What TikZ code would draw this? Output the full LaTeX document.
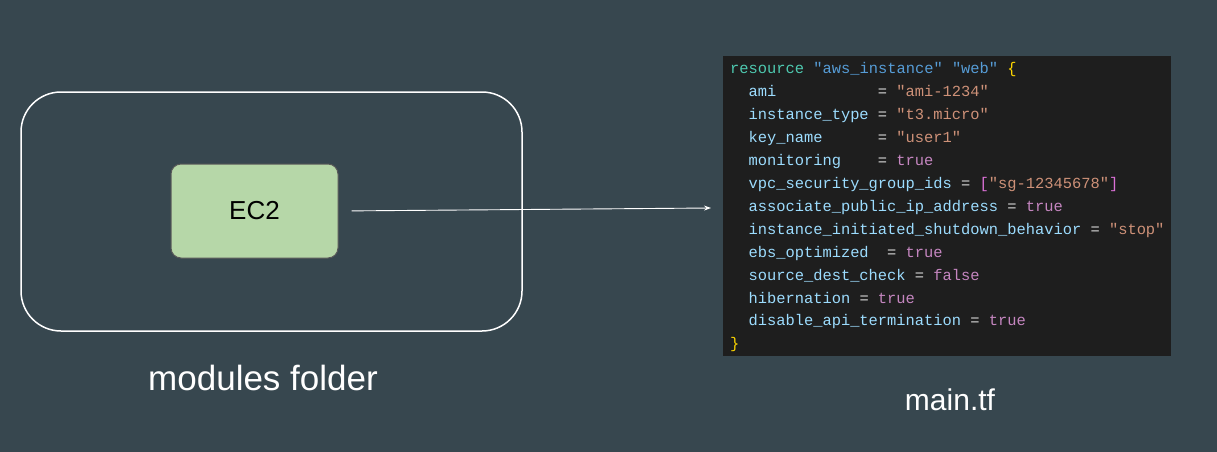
\documentclass[tikz,border=0pt]{standalone}
\usepackage{fontspec}
\setmainfont{Liberation Sans}
\setmonofont{Liberation Mono}
\usepackage{tikz}
\usetikzlibrary{arrows.meta}
\definecolor{slatebg}{HTML}{37474F}
\definecolor{editorbg}{HTML}{1E1E1E}
\definecolor{ecfill}{HTML}{B6D7A8}
\definecolor{kwcol}{HTML}{4EC9B0}
\definecolor{labcol}{HTML}{569CD6}
\definecolor{attrcol}{HTML}{9CDCFE}
\definecolor{opcol}{HTML}{D4D4D4}
\definecolor{strcol}{HTML}{CE9178}
\definecolor{boolcol}{HTML}{C586C0}
\definecolor{bracecol}{HTML}{FFD700}
\definecolor{brkcol}{HTML}{DA70D6}
\tikzset{
    folder box/.style={draw=white, line width=1.5pt, rounded corners=40pt}, % the module folder frame
    service box/.style={draw=gray!70!black, line width=1pt, fill=ecfill, rounded corners=10pt, minimum width=167pt, minimum height=94pt, font=\fontsize{26}{30}\selectfont}, % the EC2 block
    caption/.style={text=white, font=\fontsize{30}{34}\selectfont}, % labels under each half
    codeline/.style={anchor=base west, inner sep=0pt, text=attrcol, font=\ttfamily\fontsize{15.4}{18}\selectfont} % one line of the .tf file
}
\newcommand{\ckw}[1]{\textcolor{kwcol}{#1}}
\newcommand{\clab}[1]{\textcolor{labcol}{#1}}
\newcommand{\cstr}[1]{\textcolor{strcol}{#1}}
\newcommand{\cbool}[1]{\textcolor{boolcol}{#1}}
\newcommand{\ceq}{\textcolor{opcol}{=}}
\newcommand{\cbrace}[1]{\textcolor{bracecol}{#1}}
\newcommand{\cbrk}[1]{\textcolor{brkcol}{#1}}

\begin{document}
\begin{tikzpicture}[x=1pt, y=-1pt]
    \def\W{1217} \def\H{452}
    \fill[slatebg] (0,0) rectangle (\W,\H);
    \useasboundingbox (0,0) rectangle (\W,\H);

    \draw[folder box] (21,92) rectangle (522,331);
    \node[service box] (ec2) at (254.5,211) {EC2};
    \node[caption, font=\fontsize{35}{40}\selectfont] (modlabel) at (263,378) {modules folder};

    \fill[editorbg] (723,56) rectangle (1171,356);
    \node[caption] (tflabel) at (950,400) {main.tf};

    \coordinate (tip) at (711,208);
    \draw[white, line width=0.9pt, shorten <=13pt, -{Stealth[length=7pt, width=5pt]}] (ec2.east) -- (tip);

    \foreach \ind/\ln [count=\i] in {
        0/{\ckw{resource} \clab{"aws\_instance"} \clab{"web"} \cbrace{\{}},
        1/{ami\ \ \ \ \ \ \ \ \ \ \ \ceq{} \cstr{"ami-1234"}},
        1/{instance\_type \ceq{} \cstr{"t3.micro"}},
        1/{key\_name\ \ \ \ \ \ \ceq{} \cstr{"user1"}},
        1/{monitoring\ \ \ \ \ceq{} \cbool{true}},
        1/{vpc\_security\_group\_ids \ceq{} \cbrk{[}\cstr{"sg-12345678"}\cbrk{]}},
        1/{associate\_public\_ip\_address \ceq{} \cbool{true}},
        1/{instance\_initiated\_shutdown\_behavior \ceq{} \cstr{"stop"}},
        1/{ebs\_optimized\ \ \ceq{} \cbool{true}},
        1/{source\_dest\_check \ceq{} \cbool{false}},
        1/{hibernation \ceq{} \cbool{true}},
        1/{disable\_api\_termination \ceq{} \cbool{true}},
        0/{\cbrace{\}}}}
        \node[codeline] (line\i) at (730+18.4*\ind, 74+22.9*\i-22.9) {\ln};
\end{tikzpicture}
\end{document}
